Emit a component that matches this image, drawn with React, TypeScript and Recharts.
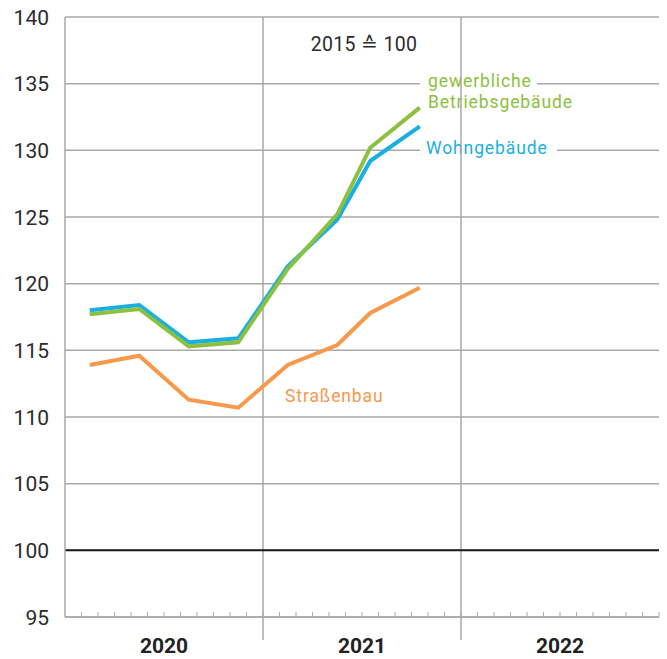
import { LineChart, Line, XAxis, YAxis, CartesianGrid, ReferenceLine, Customized } from 'recharts'

// quarterly points, plotted at the month they refer to (0 = Jan 2020)
const periods = ['Feb 2020', 'Mai 2020', 'Aug 2020', 'Nov 2020', 'Feb 2021', 'Mai 2021', 'Jul 2021', 'Okt 2021']
const monthIndex = [1, 4, 7, 10, 13, 16, 18, 21]
const wohngebaeude = [118.0, 118.4, 115.6, 115.9, 121.3, 124.8, 129.2, 131.8]
const betriebsgebaeude = [117.7, 118.1, 115.3, 115.6, 121.1, 125.2, 130.2, 133.2]
const strassenbau = [113.9, 114.6, 111.3, 110.7, 113.9, 115.4, 117.8, 119.7]

const years = ['2020', '2021', '2022']
const yTicks = [95, 100, 105, 110, 115, 120, 125, 130, 135, 140]
const monthTicks = Array.from({ length: 37 }, (_, i) => i)

const data = periods.map((p, i) => ({
  period: p,
  m: monthIndex[i] + 0.5,
  wohn: wohngebaeude[i],
  betrieb: betriebsgebaeude[i],
  strasse: strassenbau[i],
}))

const GRID = '#a9a9a9'
const BLUE = '#1aafe3'
const GREEN = '#8bc13f'
const ORANGE = '#f7994a'
const FONT = 'Roboto, "Liberation Sans", Arial, sans-serif'

const YTick = ({ y, payload }: any) => (
  <text x={49} y={y} dy={7.5} textAnchor="end" fontSize={21} fill="#2b2b2b" fontFamily={FONT}>
    {payload.value}
  </text>
)

const XTick = ({ x, y, payload }: any) => {
  const v = payload.value
  const yearIdx = (v - 6) / 12
  return (
    <g>
      {v > 0 && <line x1={x} x2={x} y1={y - 5} y2={y} stroke={GRID} strokeWidth={1} />}
      {(v === 12 || v === 24) && <line x1={x} x2={x} y1={y} y2={y + 23} stroke={GRID} strokeWidth={1.5} />}
      {Number.isInteger(yearIdx) && (
        <text x={x} y={y + 36} textAnchor="middle" fontSize={21} fontWeight="bold" fill="#222" fontFamily={FONT}>
          {years[yearIdx]}
        </text>
      )}
    </g>
  )
}

const labelStyle = { letterSpacing: '0.9px' }

const Annotations = () => (
  <g fontFamily={FONT}>
    <text x={364} y={51} textAnchor="middle" fontSize={19.5} fill="#2b2b2b" style={{ letterSpacing: '0.3px' }}>2015 ≙ 100</text>
    <rect x={420} y={74} width={117} height={18} fill="#fff" />
    <text x={428} y={87} fontSize={17.5} fill={GREEN} style={labelStyle}>gewerbliche</text>
    <text x={428} y={108} fontSize={17.5} fill={GREEN} style={labelStyle}>Betriebsgebäude</text>
    <rect x={420} y={141} width={137} height={18} fill="#fff" />
    <text x={426} y={154} fontSize={17.5} fill={BLUE} style={labelStyle}>Wohngebäude</text>
    <text x={285} y={402} fontSize={17.5} fill={ORANGE} style={labelStyle}>Straßenbau</text>
  </g>
)

export default function App() {
  return (
    <div style={{ position: 'absolute', left: 0, top: 0, background: '#fff' }}>
      <LineChart width={667} height={659} data={data} margin={{ top: 17, right: 8, left: 0, bottom: 0 }}>
        <CartesianGrid vertical={false} stroke={GRID} strokeWidth={1.5} />
        <XAxis
          dataKey="m"
          type="number"
          domain={[0, 36]}
          ticks={monthTicks}
          interval={0}
          tick={<XTick />}
          tickLine={false}
          tickSize={0}
          tickMargin={0}
          axisLine={{ stroke: GRID, strokeWidth: 1.5 }}
          height={42}
        />
        <YAxis
          type="number"
          domain={[95, 140]}
          ticks={yTicks}
          interval={0}
          width={65}
          tick={<YTick />}
          tickLine={false}
          axisLine={{ stroke: GRID, strokeWidth: 1.5 }}
        />
        <ReferenceLine x={12} stroke={GRID} strokeWidth={1.5} />
        <ReferenceLine x={24} stroke={GRID} strokeWidth={1.5} />
        <ReferenceLine y={100} stroke="#1a1a1a" strokeWidth={2} />
        <Customized component={Annotations} />
        <Line dataKey="wohn" stroke={BLUE} strokeWidth={4} dot={false} isAnimationActive={false} strokeLinejoin="miter" />
        <Line dataKey="betrieb" stroke={GREEN} strokeWidth={4} dot={false} isAnimationActive={false} strokeLinejoin="miter" />
        <Line dataKey="strasse" stroke={ORANGE} strokeWidth={4} dot={false} isAnimationActive={false} strokeLinejoin="miter" />
      </LineChart>
    </div>
  )
}
